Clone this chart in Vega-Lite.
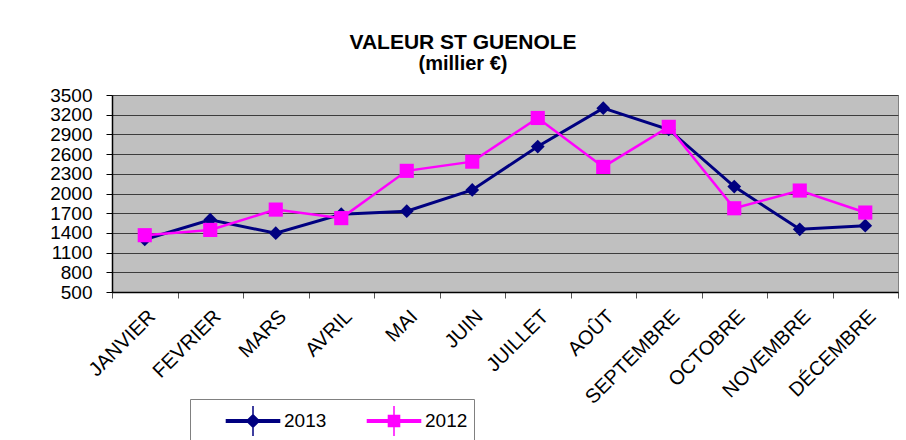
{
  "$schema": "https://vega.github.io/schema/vega-lite/v6.json",
  "width": 786,
  "height": 197,
  "autosize": "none",
  "padding": {"left": 112, "top": 95, "right": 8, "bottom": 148},
  "background": "white",
  "title": {
    "text": "VALEUR ST GUENOLE",
    "subtitle": "(millier €)",
    "font": "Liberation Sans",
    "fontSize": 21,
    "fontWeight": "bold",
    "color": "black",
    "subtitleFont": "Liberation Sans",
    "subtitleFontSize": 20,
    "subtitleFontWeight": "bold",
    "subtitleColor": "black",
    "subtitlePadding": 1,
    "anchor": "middle",
    "frame": "group",
    "dx": -42,
    "offset": 12
  },
  "config": {
    "view": {"fill": "#C0C0C0", "stroke": "#808080", "strokeWidth": 1},
    "font": "Liberation Sans"
  },
  "data": {
    "values": [
      {"month": "JANVIER", "year": "2013", "value": 1300},
      {"month": "FEVRIER", "year": "2013", "value": 1600},
      {"month": "MARS", "year": "2013", "value": 1395},
      {"month": "AVRIL", "year": "2013", "value": 1685},
      {"month": "MAI", "year": "2013", "value": 1730},
      {"month": "JUIN", "year": "2013", "value": 2055},
      {"month": "JUILLET", "year": "2013", "value": 2715},
      {"month": "AOÛT", "year": "2013", "value": 3300},
      {"month": "SEPTEMBRE", "year": "2013", "value": 2975},
      {"month": "OCTOBRE", "year": "2013", "value": 2105},
      {"month": "NOVEMBRE", "year": "2013", "value": 1455},
      {"month": "DÉCEMBRE", "year": "2013", "value": 1510},
      {"month": "JANVIER", "year": "2012", "value": 1365},
      {"month": "FEVRIER", "year": "2012", "value": 1445},
      {"month": "MARS", "year": "2012", "value": 1755},
      {"month": "AVRIL", "year": "2012", "value": 1625},
      {"month": "MAI", "year": "2012", "value": 2345},
      {"month": "JUIN", "year": "2012", "value": 2485},
      {"month": "JUILLET", "year": "2012", "value": 3150},
      {"month": "AOÛT", "year": "2012", "value": 2405},
      {"month": "SEPTEMBRE", "year": "2012", "value": 3015},
      {"month": "OCTOBRE", "year": "2012", "value": 1775},
      {"month": "NOVEMBRE", "year": "2012", "value": 2045},
      {"month": "DÉCEMBRE", "year": "2012", "value": 1710}
    ]
  },
  "encoding": {
    "x": {
      "field": "month",
      "type": "nominal",
      "sort": null,
      "scale": {"paddingInner": 0, "paddingOuter": 0},
      "axis": {
        "title": null,
        "labelAngle": -45,
        "labelAlign": "right",
        "labelBaseline": "top",
        "labelFont": "Liberation Sans",
        "labelFontSize": 20,
        "labelColor": "black",
        "labelPadding": 8,
        "labelDx": -3,
        "tickBand": "extent",
        "tickSize": 6,
        "tickColor": "#555555",
        "domainColor": "black",
        "domainWidth": 1.5,
        "grid": false,
        "labelOverlap": false
      }
    },
    "y": {
      "field": "value",
      "type": "quantitative",
      "scale": {"domain": [500, 3500], "nice": false, "zero": false},
      "axis": {
        "title": null,
        "values": [500, 800, 1100, 1400, 1700, 2000, 2300, 2600, 2900, 3200, 3500],
        "format": "d",
        "labelFont": "Liberation Sans",
        "labelFontSize": 19,
        "labelColor": "black",
        "labelPadding": 14,
        "tickSize": 6,
        "tickColor": "black",
        "domainColor": "black",
        "domainWidth": 1.5,
        "gridColor": "#3c3c3c",
        "gridWidth": 1.2,
        "labelOverlap": false,
        "labelFlush": false
      }
    },
    "color": {
      "field": "year",
      "type": "nominal",
      "scale": {"domain": ["2013", "2012"], "range": ["#000080", "#FF00FF"]},
      "legend": {
        "title": null,
        "orient": "none",
        "legendX": 78,
        "legendY": 304,
        "direction": "horizontal",
        "strokeColor": "#808080",
        "fillColor": "white",
        "padding": 6,
        "symbolSize": 900,
        "symbolOffset": 41,
        "labelOffset": 15,
        "columnPadding": 10,
        "labelFont": "Liberation Sans",
        "labelFontSize": 19,
        "labelColor": "black",
        "labelExpr": "datum.value == '2012' ? datum.label + '\u00a0\u00a0\u00a0\u00a0\u00a0' : datum.label",
        "encode": {
          "symbols": {
            "update": {
              "shape": {"signal": "datum.value == '2013' ? 'M0,-1L0,1 M-1.77,-0.09H1.77V0.09H-1.77Z M0,-0.42L0.42,0L0,0.42L-0.42,0Z' : 'M0,-1L0,1 M-1.77,-0.08H1.77V0.08H-1.77Z M-0.37,-0.37H0.37V0.37H-0.37Z'"},
              "fill": {"signal": "datum.value == '2013' ? '#000080' : '#FF00FF'"},
              "stroke": {"value": "transparent"},
              "opacity": {"value": 1}
            }
          }
        }
      }
    }
  },
  "layer": [
    {
      "transform": [{"filter": "datum.year == '2013'"}],
      "mark": {"type": "line", "strokeWidth": 3}
    },
    {
      "transform": [{"filter": "datum.year == '2013'"}],
      "mark": {"type": "point", "shape": "diamond", "filled": true, "size": 190, "opacity": 1}
    },
    {
      "transform": [{"filter": "datum.year == '2012'"}],
      "mark": {"type": "line", "strokeWidth": 2.5}
    },
    {
      "transform": [{"filter": "datum.year == '2012'"}],
      "mark": {"type": "point", "shape": "square", "filled": true, "size": 200, "opacity": 1}
    }
  ]
}
